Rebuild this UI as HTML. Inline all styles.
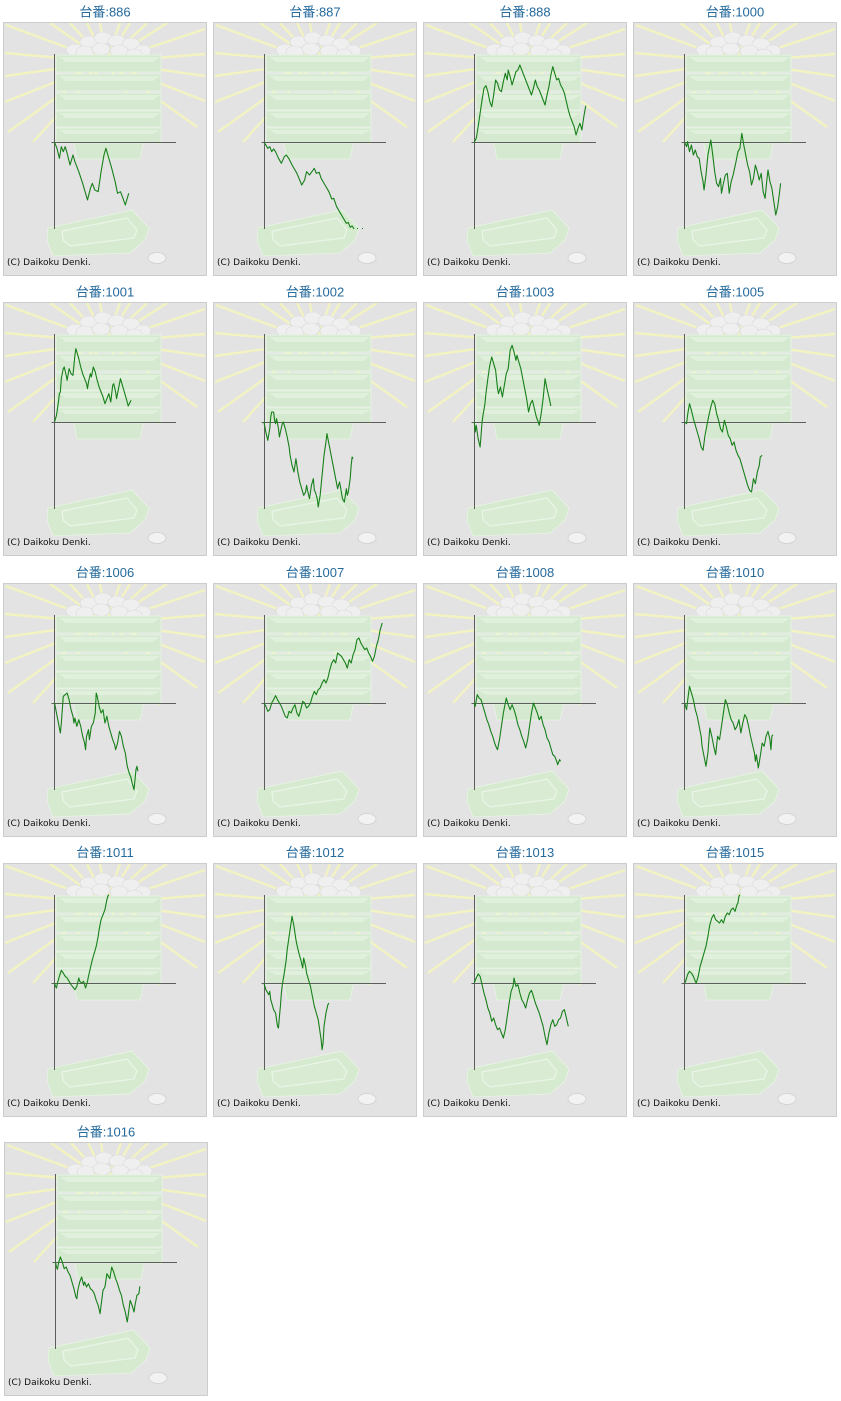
<!DOCTYPE html>
<html><head><meta charset="utf-8"><style>
html,body{margin:0;padding:0;background:#fff;}
svg{display:block;}
.t{font-family:"Liberation Sans","Noto Sans CJK JP",sans-serif;font-size:13px;fill:#256a9c;text-anchor:middle;}
.c{font-family:"DejaVu Sans","Liberation Sans",sans-serif;font-size:9px;fill:#111;}
.ax{stroke:#5d5d5d;stroke-width:1;fill:none;}
.s{fill:none;stroke:#17801a;stroke-width:1.1;vector-effect:non-scaling-stroke;stroke-linejoin:round;}
</style></head><body>
<svg width="841" height="1401" viewBox="0 0 841 1401" xmlns="http://www.w3.org/2000/svg">
<defs>
<clipPath id="cp"><rect x="1" y="1" width="202" height="252"/></clipPath>
<symbol id="bg" viewBox="0 0 204 254" width="204" height="254">
<rect x="0.5" y="0.5" width="203" height="253" fill="#e3e3e3" stroke="#cdcdcd"/>
<g clip-path="url(#cp)" stroke="#f3f3c2" stroke-width="2.4">
<line x1="103" y1="40" x2="3" y2="3"/><line x1="103" y1="40" x2="2" y2="31"/><line x1="103" y1="40" x2="2" y2="54"/><line x1="103" y1="40" x2="2" y2="80"/><line x1="103" y1="40" x2="5" y2="110"/><line x1="103" y1="40" x2="30" y2="120"/>
<line x1="103" y1="40" x2="202" y2="7"/><line x1="103" y1="40" x2="202" y2="32"/><line x1="103" y1="40" x2="202" y2="54"/><line x1="103" y1="40" x2="202" y2="79"/><line x1="103" y1="40" x2="194" y2="105"/><line x1="103" y1="40" x2="157" y2="122"/>
<line x1="103" y1="40" x2="47" y2="1"/><line x1="103" y1="40" x2="67" y2="1"/><line x1="103" y1="40" x2="84" y2="1"/><line x1="103" y1="40" x2="97" y2="1"/><line x1="103" y1="40" x2="117" y2="1"/><line x1="103" y1="40" x2="127" y2="1"/><line x1="103" y1="40" x2="144" y2="1"/><line x1="103" y1="40" x2="164" y2="1"/>
</g>
<g fill="#efefef" stroke="#dadada" stroke-width="0.6">
<ellipse cx="72" cy="28" rx="9" ry="6"/><ellipse cx="86" cy="20" rx="9" ry="6"/><ellipse cx="100" cy="16" rx="9" ry="6"/><ellipse cx="114" cy="19" rx="9" ry="6"/><ellipse cx="128" cy="22" rx="9" ry="6"/><ellipse cx="140" cy="29" rx="8" ry="6"/><ellipse cx="82" cy="30" rx="9" ry="6"/><ellipse cx="98" cy="27" rx="9" ry="6"/><ellipse cx="116" cy="29" rx="9" ry="6"/><ellipse cx="131" cy="32" rx="8" ry="5"/>
</g>
<g fill="#d4e9cf" stroke="#e7f3e4" stroke-width="0.8">
<polygon points="70,118 141,118 137,137 74,137"/>
<rect x="53" y="33" width="105" height="17"/>
<rect x="53" y="52" width="105" height="17"/>
<rect x="53" y="71" width="105" height="17"/>
<rect x="53" y="89" width="105" height="16"/>
<rect x="53" y="106" width="105" height="15"/>
</g>
<g fill="#e0f0dc">
<polygon points="56,35 157,35 150,40 63,40"/>
<polygon points="56,54 157,54 150,59 63,59"/>
<polygon points="56,73 157,73 150,78 63,78"/>
<polygon points="56,91 157,91 150,96 63,96"/>
<polygon points="56,108 157,108 150,112 63,112"/>
</g>
<polygon points="45,206 129,188 146,206 142,218 127,231 50,234 44,218" fill="#d6ead0" stroke="#e8f4e5" stroke-width="0.8"/>
<polygon points="59,209 124,196 134,208 131,216 67,224 60,218" fill="#d9ecd3" stroke="#eaf5e7" stroke-width="1.2"/>
<ellipse cx="154" cy="236" rx="9" ry="5.5" fill="#f2f2f2" stroke="#d0d0d0" stroke-width="0.8"/>
<text class="c" x="4" y="243">(C) Daikoku Denki.</text>
</symbol>
</defs>

<!-- backgrounds -->
<use href="#bg" x="3" y="22"/><use href="#bg" x="213" y="22"/><use href="#bg" x="423" y="22"/><use href="#bg" x="633" y="22"/>
<use href="#bg" x="3" y="302"/><use href="#bg" x="213" y="302"/><use href="#bg" x="423" y="302"/><use href="#bg" x="633" y="302"/>
<use href="#bg" x="3" y="583"/><use href="#bg" x="213" y="583"/><use href="#bg" x="423" y="583"/><use href="#bg" x="633" y="583"/>
<use href="#bg" x="3" y="863"/><use href="#bg" x="213" y="863"/><use href="#bg" x="423" y="863"/><use href="#bg" x="633" y="863"/>
<use href="#bg" x="4" y="1142"/>

<!-- titles -->
<text class="t" x="105" y="16.5">台番:886</text><text class="t" x="315" y="16.5">台番:887</text><text class="t" x="525" y="16.5">台番:888</text><text class="t" x="735" y="16.5">台番:1000</text>
<text class="t" x="105" y="296.5">台番:1001</text><text class="t" x="315" y="296.5">台番:1002</text><text class="t" x="525" y="296.5">台番:1003</text><text class="t" x="735" y="296.5">台番:1005</text>
<text class="t" x="105" y="577">台番:1006</text><text class="t" x="315" y="577">台番:1007</text><text class="t" x="525" y="577">台番:1008</text><text class="t" x="735" y="577">台番:1010</text>
<text class="t" x="105" y="857">台番:1011</text><text class="t" x="315" y="857">台番:1012</text><text class="t" x="525" y="857">台番:1013</text><text class="t" x="735" y="857">台番:1015</text>
<text class="t" x="106" y="1136.5">台番:1016</text>

<!-- axes -->
<g class="ax">
<path d="M54.5 54V229M51.5 142.5H176"/><path d="M264.5 54V229M261.5 142.5H386"/><path d="M474.5 54V229M471.5 142.5H596"/><path d="M684.5 54V229M681.5 142.5H806"/>
<path d="M54.5 334V509M51.5 422.5H176"/><path d="M264.5 334V509M261.5 422.5H386"/><path d="M474.5 334V509M471.5 422.5H596"/><path d="M684.5 334V509M681.5 422.5H806"/>
<path d="M54.5 615V790M51.5 703.5H176"/><path d="M264.5 615V790M261.5 703.5H386"/><path d="M474.5 615V790M471.5 703.5H596"/><path d="M684.5 615V790M681.5 703.5H806"/>
<path d="M54.5 895V1070M51.5 983.5H176"/><path d="M264.5 895V1070M261.5 983.5H386"/><path d="M474.5 895V1070M471.5 983.5H596"/><path d="M684.5 895V1070M681.5 983.5H806"/>
<path d="M55.5 1174V1349M52.5 1262.5H177"/>
</g>

<!-- row 1 -->
<g transform="translate(40,55) scale(0.48469,0.33333)">
<polyline class="s" points="30,262 35,280 40,310 44,275 48,290 52,275 56,295 62,330 68,300 72,320 80,350 88,385 98,435 104,400 108,385 113,405 120,410 126,350 132,300 136,280 140,300 148,340 155,380 160,415 166,410 170,425 176,450 183,415"/>
<polyline class="s" points="462,262 466,270 470,280 474,275 478,290 482,282 486,290 492,310 498,325 504,305 508,300 514,312 520,330 530,355 540,390 546,375 550,350 556,360 560,352 566,340 570,355 576,352 580,370 588,390 596,410 602,432 606,430 612,455 620,475 626,490 632,505 636,502 640,517 644,513 648,522"/>
<polyline class="s" points="896,262 900,250 904,215 908,175 912,135 916,100 920,92 924,110 928,140 932,155 936,120 940,75 944,85 948,105 952,110 956,80 960,55 964,75 966,45 970,65 974,90 978,70 982,50 986,45 990,30 994,45 998,60 1002,75 1006,90 1010,105 1014,120 1018,100 1022,75 1026,95 1030,105 1034,120 1038,135 1042,150 1046,120 1050,95 1054,60 1058,35 1062,55 1066,75 1070,70 1074,90 1078,100 1082,115 1086,140 1090,165 1094,185 1098,200 1102,215 1106,240 1110,220 1114,205 1118,225 1122,185 1126,152"/>
<polyline class="s" points="1330,262 1334,275 1336,260 1340,290 1344,270 1348,300 1352,285 1356,305 1360,310 1364,350 1368,380 1370,405 1374,360 1378,300 1382,270 1384,255 1388,300 1392,350 1396,385 1400,395 1404,370 1406,415 1410,385 1414,360 1418,355 1422,415 1426,380 1430,360 1436,320 1440,290 1444,280 1448,235 1452,270 1456,300 1460,330 1464,350 1468,390 1472,370 1476,330 1480,350 1484,375 1488,355 1492,410 1496,430 1500,370 1502,345 1506,380 1510,400 1514,440 1518,480 1522,455 1526,410 1528,385"/>
</g>
<rect x="357" y="228" width="1" height="1" fill="#17801a"/><rect x="362" y="228" width="1" height="1" fill="#17801a"/>

<!-- row 2 -->
<g transform="translate(40,332) scale(0.48469,0.33333)">
<polyline class="s" points="30,270 34,250 38,210 40,185 42,180 44,140 48,110 50,105 54,130 56,145 60,110 64,125 68,130 72,70 74,50 76,60 80,80 84,105 88,125 92,140 96,155 98,170 100,150 104,125 106,135 110,105 114,120 118,145 122,165 126,180 130,195 134,215 138,200 142,185 146,210 150,160 152,155 156,180 158,200 162,170 166,140 170,160 174,180 178,200 182,222 186,210 188,205"/>
<polyline class="s" points="462,270 466,300 470,325 474,290 476,255 478,240 482,240 484,265 486,275 488,260 492,290 494,315 496,300 500,275 502,270 506,290 510,315 514,345 516,370 520,400 524,420 528,380 530,400 532,420 536,450 540,470 544,490 548,480 550,460 552,475 556,500 560,460 564,440 566,475 568,480 572,500 574,525 578,490 582,430 586,370 590,330 592,305 594,320 598,350 602,380 606,410 610,440 614,470 618,450 620,465 624,500 628,510 632,470 634,490 636,480 640,440 642,400 644,375 646,380"/>
<polyline class="s" points="896,270 898,300 900,280 904,320 908,345 910,310 912,270 914,250 918,215 920,185 924,140 928,100 932,75 936,95 940,115 944,170 946,185 950,165 954,195 958,160 962,125 966,110 970,55 974,40 978,60 982,85 984,70 988,90 992,110 996,140 1000,170 1004,200 1008,240 1012,215 1016,205 1020,230 1024,255 1028,270 1030,280 1034,245 1038,200 1042,140 1046,170 1050,195 1054,222"/>
<polyline class="s" points="1330,270 1334,275 1336,250 1340,215 1344,235 1348,260 1352,280 1356,300 1360,320 1364,345 1368,355 1372,310 1376,280 1380,250 1384,225 1388,205 1392,215 1396,245 1400,265 1404,290 1408,300 1412,265 1416,285 1420,310 1424,320 1428,340 1432,330 1436,355 1440,370 1444,380 1448,400 1452,420 1456,440 1460,460 1464,475 1468,480 1472,440 1476,455 1480,420 1484,400 1486,375 1490,370"/>
</g>

<!-- row 3 -->
<g transform="translate(40,613) scale(0.48469,0.33333)">
<polyline class="s" points="30,270 34,300 38,330 42,360 44,330 46,290 48,250 52,245 56,240 60,260 64,290 68,310 70,330 72,315 76,340 80,320 84,340 88,370 92,390 94,410 96,370 100,350 102,380 106,340 110,330 114,300 116,240 118,250 122,280 126,300 130,290 134,330 138,310 142,340 146,360 150,380 154,395 156,410 160,390 164,355 168,370 172,400 176,420 180,460 184,480 188,495 190,510 194,530 196,500 198,470 200,460 202,475"/>
<polyline class="s" points="462,270 466,280 470,295 474,290 478,270 482,260 486,248 490,260 494,270 498,280 502,295 506,310 510,315 514,295 518,300 522,285 526,275 530,300 534,310 538,290 542,265 546,270 550,285 554,280 558,270 562,250 566,235 570,245 574,230 578,225 582,210 586,200 590,210 594,195 598,170 602,150 606,140 610,150 614,120 618,125 622,130 626,140 630,150 634,165 638,140 642,150 646,125 650,110 654,80 658,75 662,90 666,100 670,110 674,105 678,120 682,130 686,145 690,130 694,100 698,80 702,50 706,30"/>
<polyline class="s" points="896,270 898,280 902,245 906,255 910,260 914,280 918,300 922,320 926,335 930,355 934,370 938,390 942,405 944,410 948,380 952,340 956,300 960,270 962,255 966,275 970,290 974,275 978,290 982,310 986,335 990,350 994,370 998,385 1002,405 1006,380 1010,340 1014,300 1018,270 1022,285 1026,300 1030,320 1034,310 1038,335 1042,350 1046,375 1050,385 1054,405 1058,425 1062,430 1066,445 1068,455 1072,440 1074,445"/>
<polyline class="s" points="1330,270 1334,290 1336,265 1340,220 1344,240 1348,260 1352,290 1356,310 1360,340 1364,370 1366,400 1370,430 1374,460 1378,420 1380,380 1382,345 1386,370 1390,400 1394,425 1398,370 1402,380 1406,340 1410,300 1414,260 1418,275 1422,300 1426,320 1430,330 1434,350 1438,340 1442,320 1446,360 1450,330 1454,305 1458,315 1462,340 1466,370 1470,395 1474,420 1476,445 1478,425 1482,465 1486,430 1490,390 1494,400 1498,370 1502,355 1506,380 1508,410 1510,370 1512,365"/>
</g>

<!-- row 4 -->
<g transform="translate(40,893) scale(0.48469,0.33333)">
<polyline class="s" points="30,270 32,280 34,285 36,270 40,250 44,232 48,240 52,250 56,255 60,265 64,275 68,282 72,290 76,280 80,255 82,265 86,270 90,265 94,285 98,265 100,250 104,225 108,200 112,180 116,160 120,130 122,110 124,95 126,80 130,65 134,50 136,35 138,20 140,10 142,5"/>
<polyline class="s" points="462,270 466,290 470,300 472,305 474,295 476,320 480,340 482,350 486,360 490,400 492,405 494,370 496,340 498,300 500,275 504,240 508,200 510,170 514,130 518,90 520,70 524,100 528,140 530,155 534,180 538,200 542,225 544,195 548,220 550,240 554,260 558,280 562,310 566,340 570,360 574,380 578,420 580,440 582,470 584,450 586,400 590,360 594,335 596,330"/>
<polyline class="s" points="896,270 900,255 904,243 908,250 912,275 916,300 920,320 924,345 928,360 932,385 936,375 940,395 944,410 948,405 952,420 956,435 960,410 964,370 968,330 972,295 976,280 978,255 982,280 986,275 990,300 994,320 998,330 1002,345 1006,320 1010,300 1014,292 1018,310 1022,330 1026,345 1030,360 1034,380 1038,400 1042,430 1046,455 1050,420 1054,395 1058,380 1062,400 1066,395 1070,380 1074,375 1078,355 1082,350 1086,375 1090,400"/>
<polyline class="s" points="1330,270 1332,265 1336,245 1340,235 1344,240 1348,250 1352,265 1354,270 1358,250 1362,220 1366,200 1370,180 1374,160 1378,130 1382,95 1386,75 1390,65 1394,80 1398,85 1402,90 1406,80 1410,90 1414,70 1418,60 1422,65 1426,50 1430,45 1434,55 1438,35 1440,30 1442,10 1444,5"/>
</g>

<!-- row 5 -->
<g transform="translate(40,1172) scale(0.48469,0.33333)">
<polyline class="s" points="32,270 34,285 36,292 38,275 42,255 46,270 50,290 54,285 58,300 62,310 66,330 70,350 74,375 76,380 78,355 82,330 86,315 90,340 92,330 96,345 100,335 104,350 108,355 112,365 116,385 120,400 124,425 126,400 130,355 134,345 138,305 140,310 144,320 148,285 152,300 156,320 160,335 164,355 168,370 172,400 176,420 180,450 182,430 186,385 190,400 194,420 196,400 200,370 204,365 206,343"/>
</g>
</svg>
</body></html>
